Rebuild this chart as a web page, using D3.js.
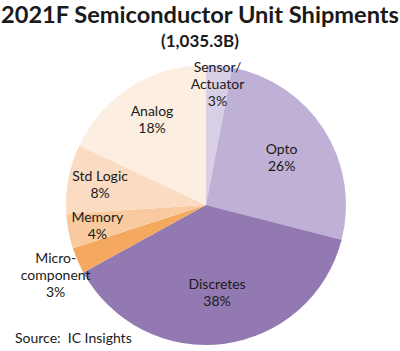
<!DOCTYPE html>
<html>
<head>
<meta charset="utf-8">
<script src="https://cdn.jsdelivr.net/npm/d3@7"></script>
<style>
  body { margin: 0; background: #fff; }
  svg text { font-family: Lato, "Open Sans", sans-serif; fill: #1a1a1a; }
</style>
</head>
<body>
<div id="viz"></div>
<script>
var categories = ['Sensor/Actuator', 'Opto', 'Discretes', 'Micro-component', 'Memory', 'Std Logic', 'Analog'];
var shares = [3, 26, 38, 3, 4, 8, 18];
var labelLines = [['Sensor/', 'Actuator', '3%'], ['Opto', '26%'], ['Discretes', '38%'],
                  ['Micro-', 'component', '3%'], ['Memory', '4%'], ['Std Logic', '8%'], ['Analog', '18%']];
var colors = ['#d8cfe6', '#bfb0d5', '#9379b1', '#f5a95e', '#f9caa0', '#fbdcc3', '#fdeee2'];

var w = 400, h = 351;
var cx = 206, cy = 205, r = 140;

var svg = d3.select('#viz')
            .append('svg')
            .attr('width', w)
            .attr('height', h)

svg.append('text')
  .attr('x', 200).attr('y', 23)
  .attr('text-anchor', 'middle')
  .style('font-size', '23.6px').style('font-weight', 'bold')
  .text('2021F Semiconductor Unit Shipments')

svg.append('text')
  .attr('x', 200).attr('y', 47)
  .attr('text-anchor', 'middle')
  .style('font-size', '17px').style('font-weight', 'bold')
  .text('(1,035.3B)')

var pie = d3.pie().sort(null).value(d => d)
var arcs = pie(shares)
var arc = d3.arc().innerRadius(0).outerRadius(r)

var g = svg.append('g').attr('transform', 'translate(' + cx + ',' + cy + ')')

g.selectAll('path')
  .data(arcs)
  .enter()
  .append('path')
  .attr('d', arc)
  .attr('fill', (d, i) => colors[i])

// label placement radius per slice (fraction of r), hand tuned like the original
var labelR = [0.87, 0.64, 0.63, 1.17, 0.79, 0.77, 0.72]
var labelDy = [0, 0, 0, 5, 0, 0, 0]
var lineH = 17

g.selectAll('text.lbl')
  .data(arcs)
  .enter()
  .append('text')
  .attr('class', 'lbl')
  .attr('text-anchor', 'middle')
  .style('font-size', '14px')
  .each(function(d, i) {
    var a = (d.startAngle + d.endAngle) / 2
    var px = Math.sin(a) * r * labelR[i]
    var py = -Math.cos(a) * r * labelR[i] + labelDy[i]
    var lines = labelLines[i]
    var t = d3.select(this)
    lines.forEach(function(s, j) {
      t.append('tspan')
        .attr('x', px)
        .attr('y', py + (j - (lines.length - 1) / 2) * lineH + 5)
        .text(s)
    })
  })

svg.append('text')
  .attr('x', 15).attr('y', 343)
  .style('font-size', '14px')
  .style('white-space', 'pre')
  .text('Source:  IC Insights')
</script>
</body>
</html>
